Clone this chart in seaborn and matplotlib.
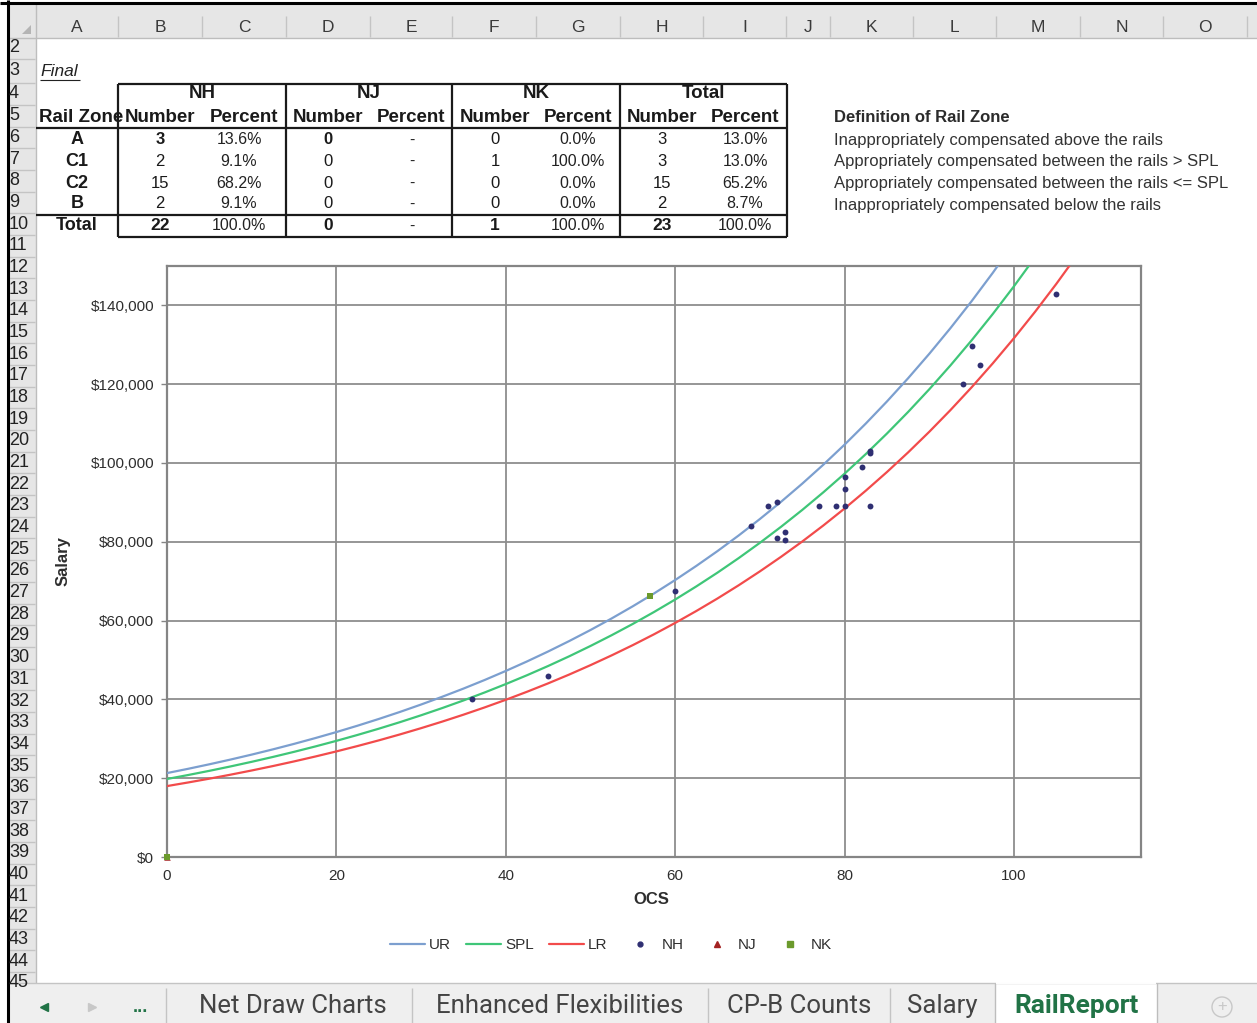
import matplotlib
matplotlib.use("Agg")
import numpy as np
import pandas as pd
import seaborn as sns
import matplotlib.pyplot as plt
from matplotlib.lines import Line2D
from matplotlib.patches import Rectangle, Polygon, Circle
from matplotlib.ticker import FuncFormatter

# ---------------------------------------------------------------- data
zones = ["A", "C1", "C2", "B"]
nh_number = [3, 2, 15, 2]
nh_percent = ["13.6%", "9.1%", "68.2%", "9.1%"]
nj_number = [0, 0, 0, 0]
nj_percent = ["-", "-", "-", "-"]
nk_number = [0, 1, 0, 0]
nk_percent = ["0.0%", "100.0%", "0.0%", "0.0%"]
total_number = [3, 3, 15, 2]
total_percent = ["13.0%", "13.0%", "65.2%", "8.7%"]
totals_row = ["22", "100.0%", "0", "-", "1", "100.0%", "23", "100.0%"]

definitions = [
    "Inappropriately compensated above the rails",
    "Appropriately compensated between the rails > SPL",
    "Appropriately compensated between the rails <= SPL",
    "Inappropriately compensated below the rails",
]

# rail curves (salary by OCS)
rail_ocs = [0, 2.5, 5, 7.5, 10, 12.5, 15, 17.5, 20, 22.5, 25, 27.5, 30, 32.5,
            35, 37.5, 40, 42.5, 45, 47.5, 50, 52.5, 55, 57.5, 60, 62.5, 65,
            67.5, 70, 72.5, 75, 77.5, 80, 82.5, 85, 87.5, 90, 92.5, 95, 97.5,
            100, 102.5, 105, 107.5, 110]
ur_salary = [21300, 22387, 23530, 24730, 25990, 27316, 28710, 30175, 31710,
             33328, 35030, 36817, 38700, 40674, 42740, 44920, 47220, 49629,
             52160, 54821, 57610, 60549, 63640, 66886, 70300, 73886, 77650,
             81611, 85780, 90156, 94750, 99583, 104660, 109999, 115610,
             121507, 127710, 134225, 141070, 148266, 155830, 163779, 172130,
             180910, 190140]
spl_salary = [19800, 20810, 21870, 22986, 24160, 25392, 26690, 28051, 29480,
              30984, 32560, 34221, 35970, 37805, 39730, 41757, 43890, 46129,
              48480, 50953, 53560, 56292, 59160, 62178, 65350, 68683, 72180,
              75862, 79740, 83808, 88080, 92573, 97290, 102253, 107470,
              112952, 118710, 124765, 131130, 137819, 144850, 152239, 160010,
              168172, 176750]
lr_salary = [18000, 18918, 19880, 20894, 21960, 23080, 24260, 25498, 26800,
             28167, 29600, 31110, 32700, 34368, 36120, 37963, 39900, 41935,
             44070, 46318, 48690, 51174, 53780, 56523, 59410, 62441, 65620,
             68967, 72490, 76188, 80070, 84154, 88450, 92962, 97700, 102684,
             107920, 113425, 119210, 125291, 131680, 138397, 145460, 152880,
             160680]

# individual positions
nh_ocs = [36, 45, 60, 69, 71, 72, 72, 73, 73, 77, 79, 80, 80, 80, 82, 83, 83,
          83, 94, 95, 96, 105]
nh_salary = [40000, 46000, 67500, 84000, 89000, 90000, 81000, 82500, 80500,
             89000, 89000, 89000, 93500, 96500, 99000, 103000, 102500, 89000,
             120000, 129800, 124800, 143000]
nj_ocs = [0]
nj_salary = [0]
nk_ocs = [0, 57]
nk_salary = [0, 66200]

sheet_tabs = ["Net Draw Charts", "Enhanced Flexibilities", "CP-B Counts",
              "Salary", "RailReport"]
col_letters = list("ABCDEFGHIJKLMNO")

# ---------------------------------------------------------------- styling
sns.set_style("white")
plt.rcParams["font.family"] = ["Liberation Sans", "DejaVu Sans"]

UR_C, SPL_C, LR_C = "#7c9fcf", "#3fc678", "#f24b4b"
NH_C, NJ_C, NK_C = "#2f2f72", "#a32222", "#6b9a2c"
XL_GREEN = "#217346"
HDR_BG = "#e6e6e6"
SEP = "#c4c4c4"

W, H = 1257, 1023
fig = plt.figure(figsize=(W / 100, H / 100), dpi=100)
bg = fig.add_axes([0, 0, 1, 1])
bg.set_xlim(0, W)
bg.set_ylim(H, 0)
bg.axis("off")


def line(x0, y0, x1, y1, color, lw):
    bg.plot([x0, x1], [y0, y1], color=color, lw=lw, solid_capstyle="butt")


# ---------------------------------------------------------------- sheet frame
bg.add_patch(Rectangle((9, 4), W - 9, 34, facecolor=HDR_BG, edgecolor="none"))
bg.add_patch(Rectangle((9, 38), 27, 945, facecolor=HDR_BG, edgecolor="none"))
line(9, 38, W, 38, "#bdbdbd", 1.0)
line(35.5, 4, 35.5, 983, "#bdbdbd", 1.0)
bg.add_patch(Polygon([(22, 34), (31, 34), (31, 25)], facecolor="#b4b4b4",
                     edgecolor="none"))

col_edges = [36, 118, 202, 286, 370, 452, 536, 620, 703, 786, 830, 913, 996,
             1080, 1163, 1247]
for xe in col_edges[1:]:
    line(xe, 16, xe, 37, SEP, 1.0)
for i, letter in enumerate(col_letters):
    cx = (col_edges[i] + col_edges[i + 1]) / 2
    bg.text(cx, 27, letter, ha="center", va="center", fontsize=12.5,
            color="#3a3a3a")

# row headers
row_centers = {2: 48, 3: 70.5}
for r in range(4, 46):
    row_centers[r] = 94 + (r - 4) * 21.68
row_bounds = [59, 83.2] + [83.2 + (k + 1) * 21.68 for k in range(42)]
for yb in row_bounds:
    if yb < 983:
        line(9, yb, 35, yb, SEP, 1.0)
for r, cy in row_centers.items():
    if cy < 985:
        bg.text(9, cy, str(r), ha="left", va="center", fontsize=13,
                color="#222222", clip_on=True)

# ---------------------------------------------------------------- title cell
bg.text(40, 71, "Final", ha="left", va="center", fontsize=12.5,
        style="italic", color="#222222")
line(40, 80, 80, 80, "#222222", 0.8)

# ---------------------------------------------------------------- table
TBL = "#1a1a1a"
lwT = 1.6
HDR_FS = 13.5
line(118, 84, 787, 84, TBL, lwT)
line(36, 128, 787, 128, TBL, lwT)
line(36, 215, 787, 215, TBL, lwT)
line(118, 237, 787, 237, TBL, lwT)
for xv in [118, 286, 452, 620, 787]:
    line(xv, 84, xv, 237, TBL, lwT)

groups = ["NH", "NJ", "NK", "Total"]
group_centers = [202, 369, 536, 703]
for g, gx in zip(groups, group_centers):
    bg.text(gx, 94, g, ha="center", va="center", fontsize=HDR_FS,
            fontweight="bold", color=TBL)

zone_hdr = bg.text(39, 117, "Rail Zone", ha="left", va="center",
                   fontsize=HDR_FS, fontweight="bold", color=TBL)
zone_hdr.set_clip_path(Rectangle((36, 100), 81, 30, transform=bg.transData))
num_x = [160, 328, 495, 662]
pct_x = [239, 412, 578, 745]
pct_hdr_x = [244, 411, 578, 745]
for nx, hx in zip(num_x, pct_hdr_x):
    bg.text(nx, 117, "Number", ha="center", va="center", fontsize=HDR_FS,
            fontweight="bold", color=TBL, zorder=3)
    bg.text(hx, 117, "Percent", ha="center", va="center",
            fontsize=HDR_FS, fontweight="bold", color=TBL, zorder=3)

data_rows_y = [140, 161, 183, 204]
cols = [(nh_number, nh_percent), (nj_number, nj_percent),
        (nk_number, nk_percent), (total_number, total_percent)]
bold_number = [True, True, False, False]
for i, (zone, yy) in enumerate(zip(zones, data_rows_y)):
    bg.text(77, yy, zone, ha="center", va="center", fontsize=13,
            fontweight="bold", color=TBL)
    for j, (nums, pcts) in enumerate(cols):
        weight = "bold" if (i == 0 and bold_number[j]) else "normal"
        bg.text(num_x[j], yy, str(nums[i]), ha="center", va="center",
                fontsize=12, fontweight=weight, color=TBL)
        bg.text(pct_x[j], yy, pcts[i], ha="center", va="center",
                fontsize=11.5, color="#222222")

bg.text(77, 226, "Total", ha="center", va="center", fontsize=13,
        fontweight="bold", color=TBL)
for j in range(4):
    bg.text(num_x[j], 226, totals_row[2 * j], ha="center", va="center",
            fontsize=12.5, fontweight="bold", color=TBL)
    bg.text(pct_x[j], 226, totals_row[2 * j + 1], ha="center", va="center",
            fontsize=11.5, color="#222222")

# ---------------------------------------------------------------- definitions
bg.text(834, 117, "Definition of Rail Zone", ha="left", va="center",
        fontsize=12, fontweight="bold", color="#2b2b2b")
for k, txt in enumerate(definitions):
    bg.text(834, 140 + k * 21.7, txt, ha="left", va="center", fontsize=12,
            color="#333333")

# ---------------------------------------------------------------- chart
x0, x1, y0, y1 = 167, 1141, 266, 857
ax = fig.add_axes([x0 / W, 1 - y1 / H, (x1 - x0) / W, (y1 - y0) / H])

n = len(rail_ocs)
curves = pd.DataFrame({
    "OCS": rail_ocs * 3,
    "Salary": ur_salary + spl_salary + lr_salary,
    "Rail": ["UR"] * n + ["SPL"] * n + ["LR"] * n,
})
sns.lineplot(data=curves, x="OCS", y="Salary", hue="Rail",
             palette={"UR": UR_C, "SPL": SPL_C, "LR": LR_C},
             estimator=None, sort=True, legend=False, lw=1.6, ax=ax,
             zorder=3)

sns.scatterplot(x=nh_ocs, y=nh_salary, color=NH_C, marker="o", s=18,
                linewidth=0, legend=False, ax=ax, zorder=5)
sns.scatterplot(x=nj_ocs, y=nj_salary, color=NJ_C, marker="^", s=22,
                linewidth=0, legend=False, ax=ax, zorder=5)
sns.scatterplot(x=nk_ocs, y=nk_salary, color=NK_C, marker="s", s=18,
                linewidth=0, legend=False, ax=ax, zorder=6)
for coll in ax.collections:
    coll.set_clip_on(False)

ax.set_xlim(0, 115)
ax.set_ylim(0, 150000)
ax.set_xticks([0, 20, 40, 60, 80, 100])
ax.set_yticks(list(range(0, 140001, 20000)))
ax.yaxis.set_major_formatter(FuncFormatter(lambda v, p: f"${v:,.0f}"))
ax.grid(True, color="#8e8e8e", lw=1.3)
ax.set_axisbelow(True)
for s in ax.spines.values():
    s.set_color("#858585")
    s.set_linewidth(1.6)
ax.tick_params(axis="y", length=4.3, width=1.0, color="#858585", pad=5,
               labelsize=11, labelcolor="#2e2e2e", left=True)
ax.tick_params(axis="x", length=0, pad=9, labelsize=11,
               labelcolor="#2e2e2e")

ax.set_xlabel("OCS", fontsize=12, fontweight="bold", color="#2e2e2e")
ax.set_ylabel("Salary", fontsize=12, fontweight="bold", color="#2e2e2e")
ax.xaxis.label.set_va("center")
ax.yaxis.label.set_va("center")
ax.xaxis.set_label_coords((651 - x0) / (x1 - x0), -(900 - y1) / (y1 - y0))
ax.yaxis.set_label_coords(-(x0 - 63) / (x1 - x0), 0.5)

handles = [
    Line2D([], [], color=UR_C, lw=1.6),
    Line2D([], [], color=SPL_C, lw=1.6),
    Line2D([], [], color=LR_C, lw=1.6),
    Line2D([], [], ls="none", marker="o", ms=3.5, color=NH_C),
    Line2D([], [], ls="none", marker="^", ms=4.5, color=NJ_C),
    Line2D([], [], ls="none", marker="s", ms=3.8, color=NK_C),
]
fig.legend(handles, ["UR", "SPL", "LR", "NH", "NJ", "NK"], loc="center",
           bbox_to_anchor=(611 / W, 1 - 945 / H), ncol=6, frameon=False,
           fontsize=11, handlelength=2.3, handletextpad=0.25,
           columnspacing=1.0, labelcolor="#2e2e2e")

# ---------------------------------------------------------------- sheet tabs
bg.add_patch(Rectangle((9, 983), W - 9, 40, facecolor="#efefef",
                       edgecolor="none"))
line(9, 983, W, 983, "#c4c4c4", 1.0)
bg.add_patch(Rectangle((995, 983), 162, 41, facecolor="white",
                       edgecolor="none"))
line(995, 983, 995, 1023, "#bdbdbd", 1.0)
line(1157, 983, 1157, 1023, "#bdbdbd", 1.0)
line(996, 983.2, 1156, 983.2, "white", 1.4)
for xs in [166, 412, 708, 890]:
    line(xs, 988, xs, 1023, "#c4c4c4", 1.0)

bg.plot(44, 1007, marker="<", ms=5.5, color=XL_GREEN, ls="none")
bg.plot(92, 1007, marker=">", ms=5.5, color="#c8c8c8", ls="none")
bg.text(140, 1008, "...", ha="center", va="center", fontsize=13,
        fontweight="bold", color=XL_GREEN)

tab_centers = [293, 560, 799, 942, 1077]
for name, cx in zip(sheet_tabs, tab_centers):
    active = name == "RailReport"
    bg.text(cx, 1006, name, ha="center", va="center",
            fontsize=19 if active else 18.5,
            family=["Roboto", "DejaVu Sans"],
            fontweight="bold" if active else "normal",
            color=XL_GREEN if active else "#444444")
bg.add_patch(Circle((1222, 1007), 10, facecolor="none", edgecolor="#c8c8c8",
                    lw=1.0))
bg.text(1222, 1007, "+", ha="center", va="center", fontsize=12,
        color="#c8c8c8")

# outer window edge
line(0, 2.5, W, 2.5, "black", 2.2)
line(7.5, 0, 7.5, H, "black", 2.2)

fig.savefig("out.png", dpi=100)
